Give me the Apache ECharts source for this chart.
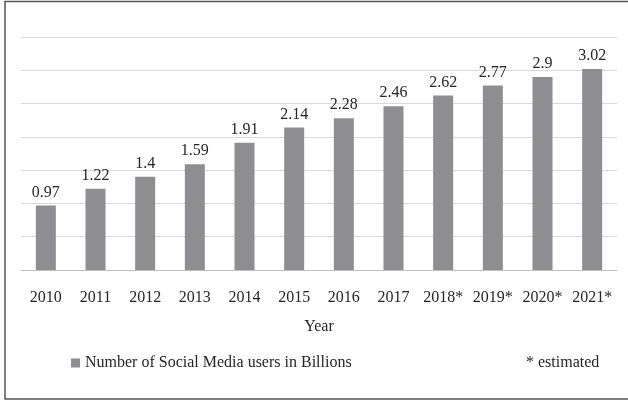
<!DOCTYPE html>
<html><head><meta charset="utf-8">
<script src="https://cdn.jsdelivr.net/npm/echarts@6/dist/echarts.min.js"></script>
<style>html,body{margin:0;padding:0;background:#fff}#c{width:628px;height:401px}</style>
</head><body><div id="c"></div>
<script>
const years = ['2010','2011','2012','2013','2014','2015','2016','2017','2018*','2019*','2020*','2021*'];
const users = [0.97,1.22,1.4,1.59,1.91,2.14,2.28,2.46,2.62,2.77,2.9,3.02];
const seriesName = 'Number of Social Media users in Billions';
const noteText = '* estimated';
const axisTitle = 'Year';

const font = 'Liberation Serif, Times New Roman, serif';
const chart = echarts.init(document.getElementById('c'));
chart.setOption({
  animation: false,
  backgroundColor: '#fff',
  grid: {left: 21, right: 11, top: 37, bottom: 131},
  legend: {
    data: [seriesName], left: 66, top: 350, icon: 'rect', itemWidth: 9, itemHeight: 9, itemGap: 5,
    textStyle: {fontFamily: font, fontSize: 16, color: '#262626'}
  },
  graphic: [
    {type: 'rect', shape: {x: 5, y: 1.5, width: 640, height: 397.5}, style: {fill: 'none', stroke: '#555', lineWidth: 1.5}},
    {type: 'text', left: 526, top: 355, style: {text: noteText, font: '16px ' + font, fill: '#262626'}}
  ],
  xAxis: {
    type: 'category', data: years,
    name: axisTitle, nameLocation: 'middle', nameGap: 49,
    nameTextStyle: {fontFamily: font, fontSize: 16, color: '#262626'},
    axisLine: {lineStyle: {color: '#bfbfbf', width: 1}},
    axisTick: {show: false},
    axisLabel: {interval: 0, fontFamily: font, fontSize: 16, color: '#262626', margin: 20}
  },
  yAxis: {
    type: 'value', min: 0, max: 3.5, interval: 0.5,
    axisLabel: {show: false}, axisLine: {show: false}, axisTick: {show: false},
    splitLine: {lineStyle: {color: '#d9d9d9', width: 1}}
  },
  series: [{
    name: seriesName, type: 'bar', data: users, barWidth: 20,
    itemStyle: {color: '#8e8e90'},
    label: {show: true, position: 'top', distance: 5, fontFamily: font, fontSize: 16, color: '#262626'}
  }]
});
</script></body></html>
